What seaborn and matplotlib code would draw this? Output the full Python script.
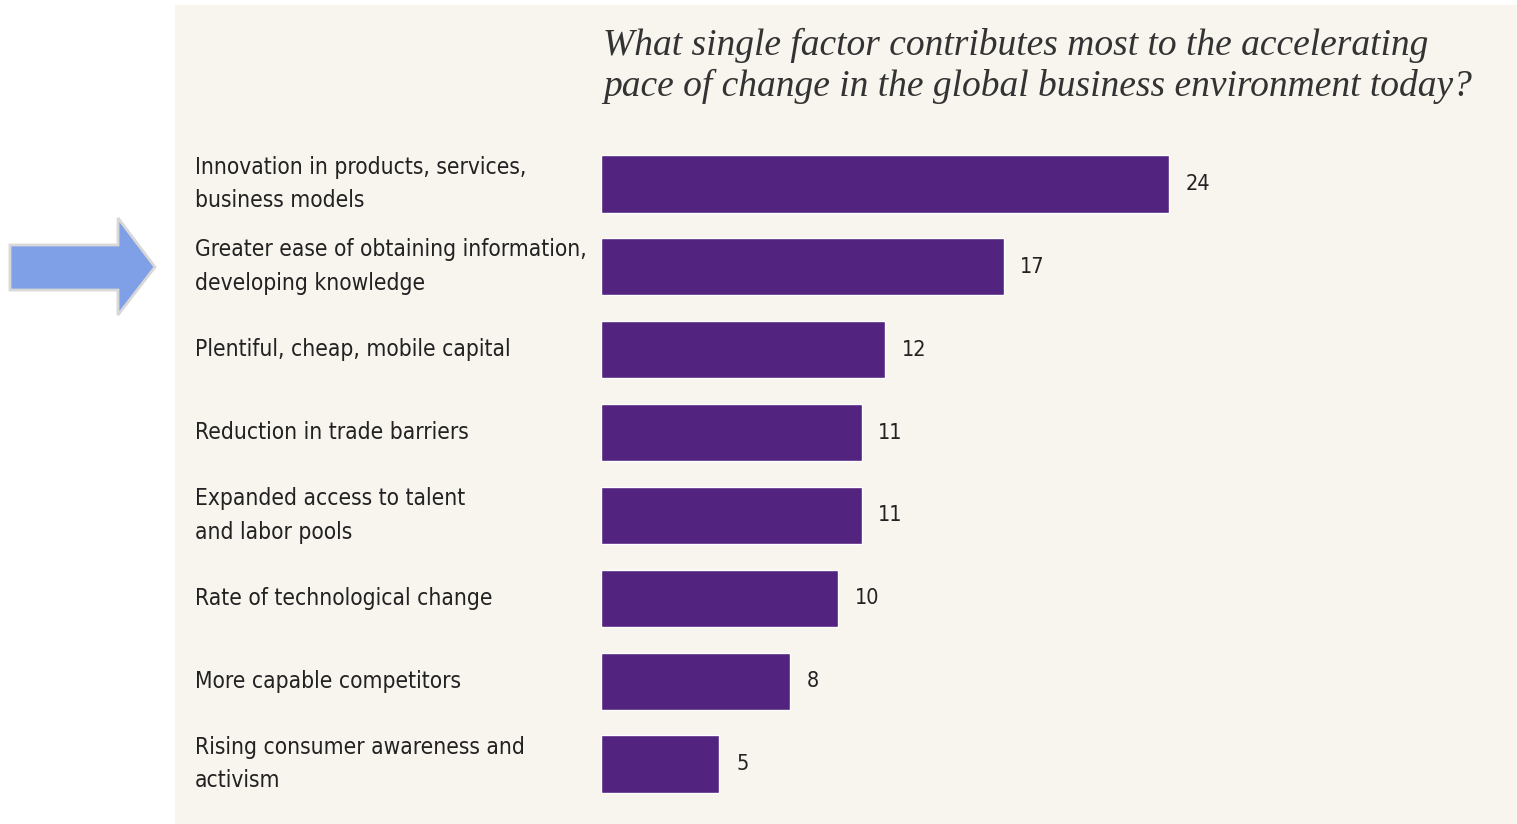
import matplotlib
matplotlib.use("Agg")
import matplotlib.pyplot as plt
import matplotlib.patches as mpatches
from matplotlib import font_manager
import seaborn as sns
import pandas as pd

# Survey responses (percent of respondents)
factors = [
    "Innovation in products, services,\nbusiness models",
    "Greater ease of obtaining information,\ndeveloping knowledge",
    "Plentiful, cheap, mobile capital",
    "Reduction in trade barriers",
    "Expanded access to talent\nand labor pools",
    "Rate of technological change",
    "More capable competitors",
    "Rising consumer awareness and\nactivism",
]
shares = [24, 17, 12, 11, 11, 10, 8, 5]
title_text = ("What single factor contributes most to the accelerating\n"
              "pace of change in the global business environment today?")

df = pd.DataFrame({"factor": factors, "share": shares})

sns.set_theme(style="white")
plt.rcParams["font.family"] = ["DejaVu Sans"]

# Prefer a condensed face for the labels if one is available
cond_fp = None
for f in font_manager.fontManager.ttflist:
    if "Condensed" in f.fname and "DejaVuSans" in f.fname and "Bold" not in f.fname \
            and "Oblique" not in f.fname:
        cond_fp = font_manager.FontProperties(fname=f.fname)
        break

def label_font(size):
    if cond_fp is not None:
        fp = cond_fp.copy()
        fp.set_size(size)
        return fp
    return font_manager.FontProperties(family="DejaVu Sans", size=size * 0.88)

W, H = 1517, 824
fig = plt.figure(figsize=(W / 100, H / 100), dpi=100, facecolor="white")

panel_color = "#f8f4ee"
bar_color = "#53247f"
text_color = "#222222"

# Beige panel behind the chart
panel = fig.add_axes([175 / W, 0, 1 - 175 / W, 1 - 5 / H])
panel.set_facecolor(panel_color)
panel.set_xticks([]); panel.set_yticks([])
for s in panel.spines.values():
    s.set_visible(False)

# Bar axes
top_px, bot_px = 142.6, 805.4
ax = fig.add_axes([601 / W, 1 - bot_px / H, 900 / W, (bot_px - top_px) / H])
ax.patch.set_alpha(0)
sns.barplot(data=df, x="share", y="factor", orient="h", color=bar_color,
            saturation=1, width=0.69, ax=ax)
ax.set_xlim(0, 38)
ax.set_ylim(len(factors) - 0.5, -0.5)
ax.set_xticks([]); ax.set_yticks([])
ax.set_xlabel(""); ax.set_ylabel("")
for s in ax.spines.values():
    s.set_visible(False)

# Value labels at bar ends
for i, v in enumerate(shares):
    ax.annotate(str(v), (v, i), xytext=(12, 0), textcoords="offset points",
                va="center", ha="left", color=text_color,
                fontproperties=label_font(15.5))

# Category labels, left aligned in the panel
label_x = 195 / W
for i, lab in enumerate(factors):
    y_disp = ax.transData.transform((0, i))[1]
    y_fig = fig.transFigure.inverted().transform((0, y_disp))[1]
    fig.text(label_x, y_fig, lab, ha="left", va="center",
             color=text_color, linespacing=1.6,
             fontproperties=label_font(16.3))

# Italic serif question
fig.text(603 / W, 1 - 66 / H, title_text, ha="left", va="center",
         fontsize=27, style="italic", color="#333333",
         family=["Liberation Serif", "DejaVu Serif"], linespacing=1.22)

# Pointer arrow on the left
arrow_pts = [(10, 245), (118, 245), (118, 218), (155, 267),
             (118, 315), (118, 290), (10, 290)]
arrow_pts = [(x / W, 1 - y / H) for x, y in arrow_pts]
fig.patches.append(mpatches.Polygon(arrow_pts, closed=True,
                                    transform=fig.transFigure,
                                    facecolor="#7fa0e6", edgecolor="#d8d8d8",
                                    linewidth=2))

fig.savefig("out.png", dpi=100, facecolor="white")
